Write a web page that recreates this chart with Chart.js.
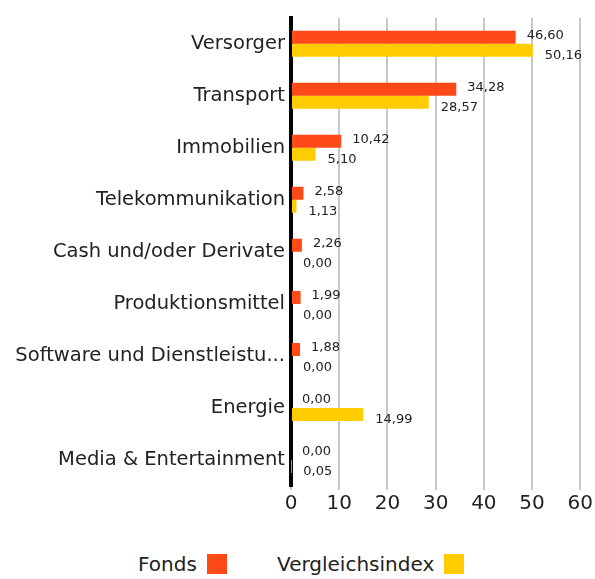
<!DOCTYPE html>
<html>
<head>
<meta charset="utf-8">
<script src="https://cdn.jsdelivr.net/npm/chart.js@4"></script>
<style>
  body { margin: 0; background: #fff; font-family: "DejaVu Sans", sans-serif; }
  #wrap { position: relative; width: 595px; height: 579px; }
  #legend { position: absolute; top: 552px; left: 0; width: 595px; font-size: 20px; color: #222; }
  .item { position: absolute; top: 0; white-space: nowrap; }
  .box { display: inline-block; width: 20px; height: 20px; vertical-align: -3px; margin-left: 10px; }
</style>
</head>
<body>
<div id="wrap">
  <canvas id="chart" width="595" height="518"></canvas>
  <div id="legend"></div>
</div>
<script>
const categories = [
  "Versorger", "Transport", "Immobilien", "Telekommunikation",
  "Cash und/oder Derivate", "Produktionsmittel",
  "Software und Dienstleistungen", "Energie", "Media & Entertainment"
];
const fonds = [46.60, 34.28, 10.42, 2.58, 2.26, 1.99, 1.88, 0.00, 0.00];
const vergleich = [50.16, 28.57, 5.10, 1.13, 0.00, 0.00, 0.00, 14.99, 0.05];
const seriesNames = ["Fonds", "Vergleichsindex"];
const colors = ["#FF4A17", "#FFCC00"];
const xTicks = [0, 10, 20, 30, 40, 50, 60];

const FONT = "'DejaVu Sans', sans-serif";

window.onload = init;

function formatValue(v) {
  return v.toFixed(2).replace(".", ",");
}

function shorten(label) {
  return label.length > 27 ? label.slice(0, 25) + "..." : label;
}

const valueLabels = {
  id: "valueLabels",
  afterDatasetsDraw(chart) {
    const ctx = chart.ctx;
    ctx.save();
    ctx.font = "13px " + FONT;
    ctx.fillStyle = "#222";
    ctx.textAlign = "left";
    ctx.textBaseline = "middle";
    chart.data.datasets.forEach(function (ds, i) {
      const meta = chart.getDatasetMeta(i);
      meta.data.forEach(function (bar, j) {
        const dy = i === 0 ? -2 : 5;
        const dx = i === 0 ? 11 : 12;
        ctx.fillText(formatValue(ds.data[j]), bar.x + dx, bar.y + dy);
      });
    });
    ctx.restore();
  }
};

function buildLegend() {
  const legend = document.getElementById("legend");
  const lefts = [138, 277];
  seriesNames.forEach(function (name, i) {
    const item = document.createElement("span");
    item.className = "item";
    item.style.left = lefts[i] + "px";
    item.textContent = name;
    const box = document.createElement("span");
    box.className = "box";
    box.style.background = colors[i];
    item.appendChild(box);
    legend.appendChild(item);
  });
}

function init() {
  buildLegend();
  const ctx = document.getElementById("chart");
  new Chart(ctx, {
    type: "bar",
    data: {
      labels: categories,
      datasets: [
        { label: seriesNames[0], data: fonds, backgroundColor: colors[0] },
        { label: seriesNames[1], data: vergleich, backgroundColor: colors[1] }
      ]
    },
    plugins: [valueLabels],
    options: {
      indexAxis: "y",
      responsive: false,
      animation: false,
      categoryPercentage: 0.5,
      barPercentage: 1.0,
      layout: { padding: { top: 17, right: 12, left: 0, bottom: 0 } },
      plugins: { legend: { display: false }, tooltip: { enabled: false } },
      scales: {
        x: {
          min: 0,
          max: 60,
          afterBuildTicks: function (scale) {
            scale.ticks = xTicks.map(function (v) { return { value: v }; });
          },
          grid: { color: "#c8c8c8", lineWidth: 2, tickLength: 4 },
          border: { display: false },
          ticks: { color: "#222", font: { size: 20, family: FONT }, padding: 2 }
        },
        y: {
          afterFit: function (scale) { scale.width = 291; },
          grid: { display: false, drawTicks: false },
          border: { color: "#000", width: 4 },
          ticks: {
            color: "#222",
            font: { size: 19.5, family: FONT },
            padding: 6,
            callback: function (value) { return shorten(this.getLabelForValue(value)); }
          }
        }
      }
    }
  });
}
</script>
</body>
</html>
